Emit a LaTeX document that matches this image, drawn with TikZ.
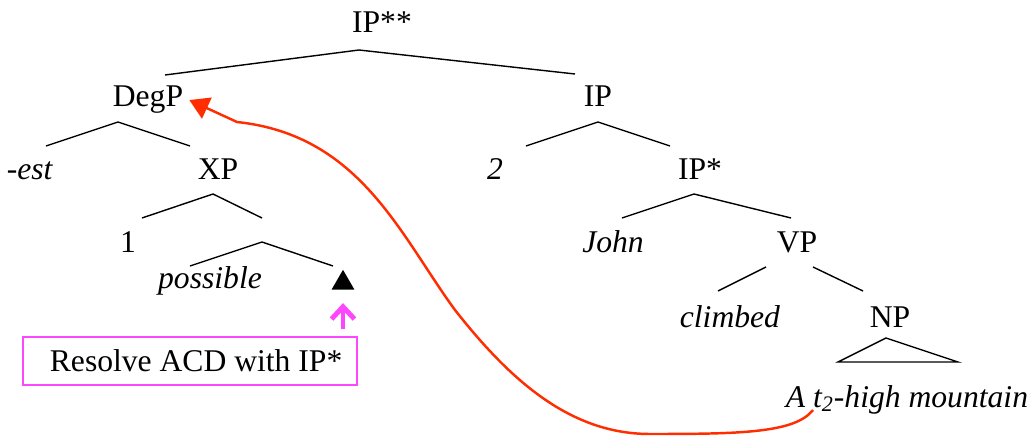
\documentclass[tikz,border=0pt]{standalone}
\usepackage{fontspec}
\setmainfont{Liberation Serif}
\usetikzlibrary{arrows.meta, shapes.geometric}

\definecolor{movered}{RGB}{255,45,0}
\definecolor{notepink}{RGB}{255,70,255}

\begin{document}
\begin{tikzpicture}[
    x=0.02cm, y=-0.02cm,
    font=\fontsize{18}{21.6}\selectfont,
    word/.style={anchor=base},
    branchline/.style={line width=0.8pt},
    gapmark/.style={regular polygon, regular polygon sides=3, fill=black, minimum size=15pt, inner sep=0pt},
    note/.style={rectangle, draw=notepink, line width=1.1pt, minimum width=190.5pt, minimum height=27.2pt, inner sep=0pt},
    noteline/.style={-{Straight Barb[length=7pt,width=13pt]}, draw=notepink, line width=2.8pt, shorten <=4pt, shorten >=7.5pt},
    moveline/.style={-{Triangle[length=11pt,width=13pt]}, draw=movered, line width=1.4pt}
]
\useasboundingbox (0,0) rectangle (1032,439);

% Nodes
\node[word] (IPss) at (382,33) {IP**};
\node[word] (DegP) at (148,107) {DegP};
\node[word] (IP) at (598,107) {IP};
\node[word] (est) at (30,180) {-\textit{est}};
\node[word] (XP) at (218,180) {XP};
\node[word] (two) at (495,180) {\textit{2}};
\node[word] (IPs) at (700,180) {IP*};
\node[word] (one) at (128,253) {1};
\node[word] (John) at (613,253) {\textit{John}};
\node[word] (VP) at (797,253) {VP};
\node[word] (possible) at (210,288) {\textit{possible}};
\node[gapmark] (gap) at (343,283) {};
\node[word] (climbed) at (730,327) {\textit{climbed}};
\node[word] (NP) at (890,327) {NP};
\node[word] (mountain) at (907,407) {\textit{A t\textsubscript{2}-high mountain}};
\node[note] (resolve) at (190,361) {\hspace*{7pt}Resolve ACD with IP*};

% Branches
\draw[branchline] (165,75) -- (359,50) -- (575,74);
\draw[branchline] (46,146) -- (118,122) -- (190,146);
\draw[branchline] (526,146) -- (598,122) -- (670,146);
\draw[branchline] (142,218) -- (213,194) -- (262,218);
\draw[branchline] (190,266) -- (262,242) -- (333,266);
\draw[branchline] (622,218) -- (694,194) -- (791,218);
\draw[branchline] (766,267) -- (718,291);
\draw[branchline] (813,267) -- (863,291);
\draw[branchline] (886,338) -- (838,362) -- (958,362) -- cycle;

% ACD note
\draw[noteline] (resolve.north -| gap) -- (gap.south);

% Movement of the degree head
\coordinate (tfoot) at (813,410);
\coordinate (bend) at (237,122);
\draw[moveline] (tfoot) .. controls (795,433) and (740,434) .. (650,434)
    .. controls (570,434) and (510,380) .. (455,310)
    .. controls (400,235) and (360,135) .. (bend) -- (DegP.east);

\end{tikzpicture}
\end{document}
